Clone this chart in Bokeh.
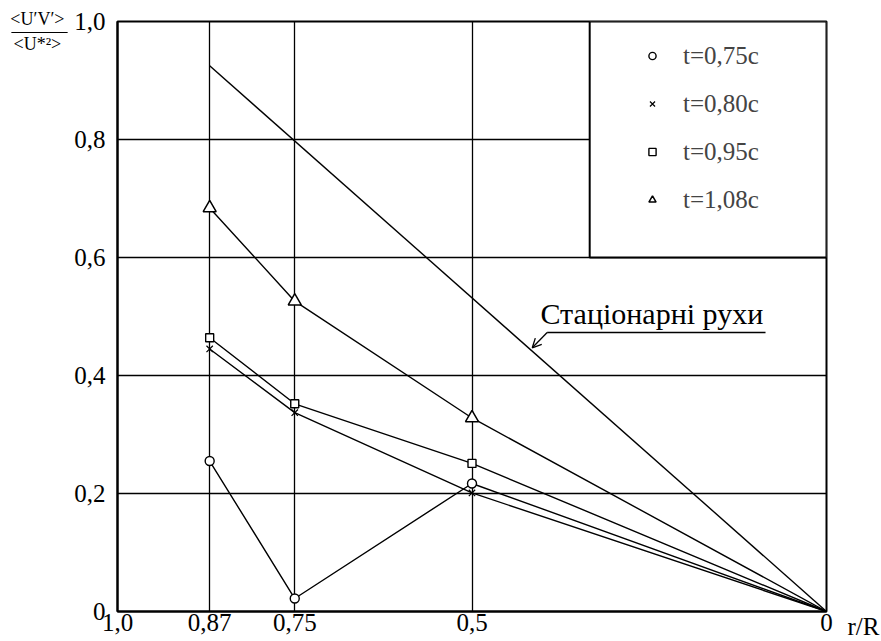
from bokeh.plotting import figure
from bokeh.models import (Range1d, FixedTicker, Legend, LegendItem, BoxAnnotation,
                          Label, Arrow, OpenHead)
from bokeh.embed import file_html
from bokeh.resources import INLINE

# ---- data ----
r_pos = [0.87, 0.75, 0.5, 0.0]
t075 = [0.255, 0.022, 0.217, 0.0]
t080 = [0.445, 0.337, 0.201, 0.0]
t095 = [0.464, 0.352, 0.251, 0.0]
t108 = [0.684, 0.526, 0.328, 0.0]
stat_r = [0.87, 0.0]
stat_v = [0.925, 0.0]

x_ticks = [1.0, 0.87, 0.75, 0.5, 0.0]
x_tick_labels = ["1,0", "0,87", "0,75", "0,5", "0"]
y_ticks = [0.0, 0.2, 0.4, 0.6, 0.8, 1.0]
y_tick_labels = ["0", "0,2", "0,4", "0,6", "0,8", "1,0"]
series_labels = ["t=0,75c", "t=0,80c", "t=0,95c", "t=1,08c"]

FONT = "Liberation Serif"

p = figure(width=881, height=641, x_range=Range1d(1.0, 0.0), y_range=Range1d(0.0, 1.0),
           output_backend="svg", toolbar_location=None,
           min_border_left=117, min_border_right=55, min_border_top=21, min_border_bottom=30)
p.background_fill_color = "white"
p.border_fill_color = "white"
p.outline_line_color = "black"
p.outline_line_width = 2

# axes
for ax in (p.xaxis[0], p.yaxis[0]):
    ax.axis_line_width = 2
    ax.axis_line_color = "black"
    ax.major_tick_out = 0
    ax.major_tick_in = 0
    ax.minor_tick_out = 0
    ax.minor_tick_in = 0
    ax.major_label_text_font = FONT
    ax.major_label_text_font_size = "25px"
    ax.major_label_text_color = "black"

p.xaxis.ticker = FixedTicker(ticks=x_ticks)
p.xaxis.major_label_overrides = {t: l for t, l in zip(x_ticks, x_tick_labels)}
p.xaxis.major_label_standoff = 2
p.xaxis.major_label_text_align = "left"
p.yaxis.ticker = FixedTicker(ticks=y_ticks)
p.yaxis.major_label_overrides = {t: l for t, l in zip(y_ticks, y_tick_labels)}
p.yaxis.major_label_standoff = 12

# grid
p.xgrid.ticker = FixedTicker(ticks=x_ticks)
p.ygrid.ticker = FixedTicker(ticks=y_ticks)
for g in (p.xgrid[0], p.ygrid[0]):
    g.grid_line_color = "black"
    g.grid_line_width = 1.3
    g.grid_line_alpha = 1.0

LW = 1.4
# stationary motion line
p.line(stat_r, stat_v, line_color="black", line_width=LW)

# series
p.line(r_pos, t075, line_color="black", line_width=LW)
p.line(r_pos, t080, line_color="black", line_width=LW)
p.line(r_pos, t095, line_color="black", line_width=LW)
p.line(r_pos, t108, line_color="black", line_width=LW)

x_in = r_pos[:-1]
m1 = p.scatter(x_in, t075[:-1], marker="circle", size=9, fill_color="white",
               line_color="black", line_width=1.4)
m2 = p.scatter(x_in, t080[:-1], marker="x", size=9, line_color="black", line_width=1.2)
m3 = p.scatter(x_in, t095[:-1], marker="square", size=8, fill_color="white",
               line_color="black", line_width=1.4)
m4 = p.scatter(x_in, t108[:-1], marker="triangle", size=13, fill_color="white",
               line_color="black", line_width=1.5)

# legend box (white panel covering the grid)
box = BoxAnnotation(left=0.334, right=0.0, top=1.0, bottom=0.6, fill_color="white",
                    fill_alpha=1.0, line_color="black", line_width=2, line_alpha=1.0)
p.add_layout(box)

legend = Legend(items=[LegendItem(label=lab, renderers=[r])
                       for lab, r in zip(series_labels, [m1, m2, m3, m4])],
                location=(506, 377))
legend.label_text_font = FONT
legend.label_text_font_size = "25px"
legend.label_standoff = 22
legend.glyph_width = 18
legend.glyph_height = 29
legend.label_height = 29
legend.spacing = 19
legend.padding = 20
legend.margin = 0
legend.border_line_alpha = 0
legend.background_fill_alpha = 0
p.add_layout(legend)

# annotation for the stationary line
p.add_layout(Label(x=0.4034, y=0.505, text="Стаціонарні рухи", text_font=FONT,
                   text_font_size="30px", text_color="black", text_baseline="middle"))
p.add_layout(Arrow(x_start=0.086, y_start=0.473, x_end=0.394, y_end=0.473, end=None,
                   line_color="black", line_width=1.4))
p.add_layout(Arrow(x_start=0.394, y_start=0.473, x_end=0.415, y_end=0.447,
                   end=OpenHead(size=9, line_width=1.3, line_color="black"),
                   line_color="black", line_width=1.3))

# y-axis quantity as a fraction at the top-left
p.add_layout(Label(x=1.113, y=0.9830, text="<U′V′>\n<U*²>", text_font=FONT,
                   text_font_size="18px", text_line_height=1.25,
                   text_align="center", text_baseline="middle", text_color="black"), "left")
# fraction bar (thin filled box of a blank label)
p.add_layout(Label(x=1.110, y=0.9814, text=" ", text_font_size="1px",
                   text_align="center", text_baseline="middle",
                   background_fill_color="black", background_fill_alpha=1.0,
                   padding=dict(left=28, right=28, top=0, bottom=0)), "above")

# x-axis name
p.add_layout(Label(x=-0.052, y=-0.025, text="r/R", text_font=FONT, text_font_size="25px",
                   text_align="center", text_baseline="middle", text_color="black"), "right")

open("out.html", "w").write(file_html(p, INLINE))
